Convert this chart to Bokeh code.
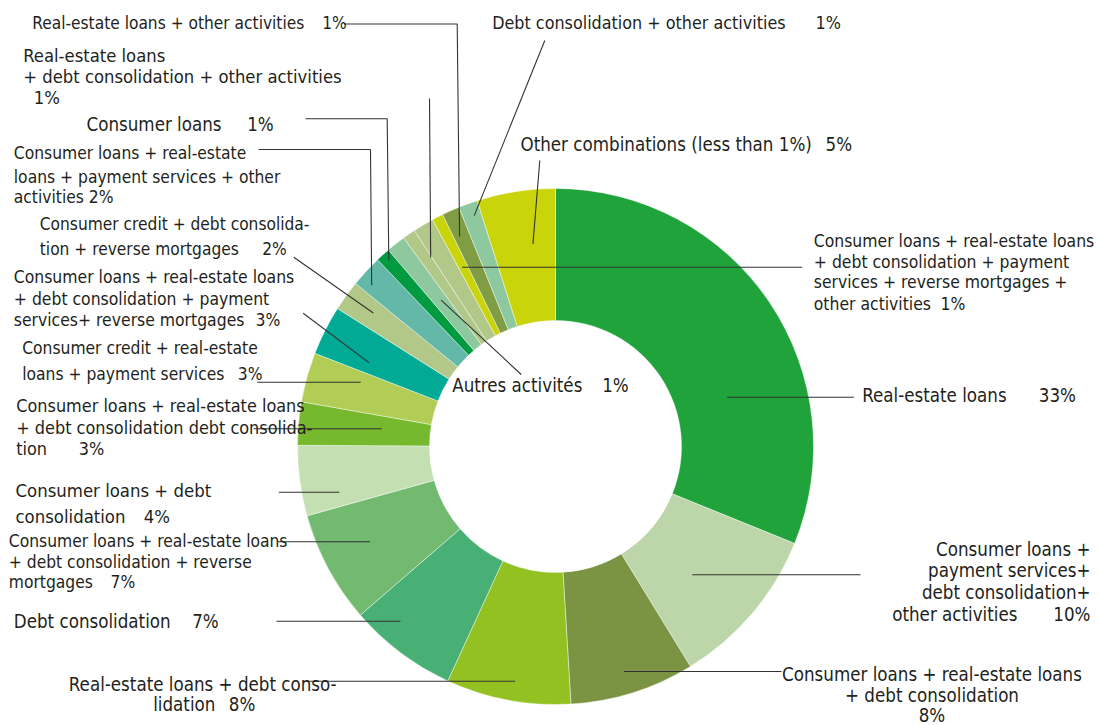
import numpy as np
from bokeh.plotting import figure
from bokeh.models import Range1d, ColumnDataSource
from bokeh.core.properties import value
from bokeh.embed import file_html
from bokeh.resources import INLINE

# ---------------- data (clockwise from 12 o'clock) ----------------
categories = [
    "Real-estate loans",
    "Consumer loans + payment services+ debt consolidation+ other activities",
    "Consumer loans + real-estate loans + debt consolidation",
    "Real-estate loans + debt consolidation",
    "Debt consolidation",
    "Consumer loans + real-estate loans + debt consolidation + reverse mortgages",
    "Consumer loans + debt consolidation",
    "Consumer loans + real-estate loans + debt consolidation debt consolidation",
    "Consumer credit + real-estate loans + payment services",
    "Consumer loans + real-estate loans + debt consolidation + payment services+ reverse mortgages",
    "Consumer credit + debt consolidation + reverse mortgages",
    "Consumer loans + real-estate loans + payment services + other activities",
    "Consumer loans",
    "Autres activités",
    "Real-estate loans + debt consolidation + other activities",
    "",
    "Consumer loans + real-estate loans + debt consolidation + payment services + reverse mortgages + other activities",
    "Real-estate loans + other activities",
    "Debt consolidation + other activities",
    "Other combinations (less than 1%)",
]
shares = [31.1, 10.1, 7.8, 7.8, 6.8, 7.0, 4.4, 2.7, 3.1, 3.1,
          1.9, 2.0, 0.9, 1.2, 0.8, 1.3, 0.7, 1.1, 1.2, 4.9]
printed_pct = ["33%", "10%", "8%", "8%", "7%", "7%", "4%", "3%", "3%", "3%",
               "2%", "2%", "1%", "1%", "1%", "", "1%", "1%", "1%", "5%"]
colors = ["#1fa33a", "#bcd6a9", "#7a9443", "#93c121", "#48b074",
          "#71ba6f", "#c4e0b3", "#76b82e", "#b1cd56", "#00aa95",
          "#b1c888", "#63b8a7", "#009a40", "#8ec89e", "#b1c888",
          "#b1c888", "#cad40b", "#7f9d45", "#8ec89e", "#cad40b"]

# ---------------- layout (page pixel coordinates) ----------------
W, H = 1099, 725
CX, CY = 555.0, 446.0
R_OUT, R_IN = 258.0, 126.0
FONT = "DejaVu Sans Condensed, Liberation Sans"
TXT = "#231f20"
TEXT_DY = -6.5   # baseline correction for the text glyph

def Y(py):
    return H - py

# per slice: text lines, percent position, font size, leader path start, anchor spec
labels = {
    0: dict(lines=[("Real-estate loans", 861.7, 401.7, "left")], pct=(1038.3, 401.7, "left"), size=18.6,
            lead=[(853.3, 396.7)], frac=0.66, mode="y"),
    1: dict(lines=[("Consumer loans +", 1090, 555.7, "right"), ("payment services+", 1090, 576.7, "right"),
                   ("debt consolidation+", 1090, 598.7, "right"), ("other activities", 891.7, 620, "left")],
            pct=(1090, 620, "right"), size=18.6, lead=[(860, 574.3)], frac=0.58, mode="y"),
    2: dict(lines=[("Consumer loans + real-estate loans", 931.5, 680, "center"),
                   ("+ debt consolidation", 931.5, 701.5, "center")],
            pct=(931.5, 721, "center"), size=18.6, lead=[(781, 671)], frac=0.52, mode="y"),
    3: dict(lines=[("Real-estate loans + debt conso-", 68.3, 690, "left"), ("lidation", 152.7, 710, "left")],
            pct=(228.3, 710, "left"), size=18.6, lead=[(303, 680.7)], frac=0.47, mode="y"),
    4: dict(lines=[("Debt consolidation", 13.3, 627.7, "left")], pct=(191.7, 627.7, "left"), size=18.6,
            lead=[(276, 620.7)], frac=0.69, mode="y"),
    5: dict(lines=[("Consumer loans + real-estate loans", 8.3, 546.7, "left"),
                   ("+ debt consolidation + reverse", 8.3, 567.7, "left"), ("mortgages", 8.3, 588.3, "left")],
            pct=(110, 588.3, "left"), size=17.3, lead=[(276.7, 541.3)], frac=0.54, mode="y"),
    6: dict(lines=[("Consumer loans + debt", 15, 496.7, "left"), ("consolidation", 15, 522.7, "left")],
            pct=(143.3, 522.7, "left"), size=18.4, lead=[(278.3, 491.7)], frac=0.23, mode="y"),
    7: dict(lines=[("Consumer loans + real-estate loans", 15.7, 411.7, "left"),
                   ("+ debt consolidation debt consolida-", 15.7, 433.3, "left"), ("tion", 15.7, 454, "left")],
            pct=(78.3, 454, "left"), size=17.9, lead=[(253, 428.3)], frac=0.57, mode="y"),
    8: dict(lines=[("Consumer credit + real-estate", 21.7, 354, "left"), ("loans + payment services", 21.7, 380, "left")],
            pct=(237.3, 380, "left"), size=17.3, lead=[(256.7, 381.7)], frac=0.74, mode="y"),
    9: dict(lines=[("Consumer loans + real-estate loans", 13.3, 283.3, "left"),
                   ("+ debt consolidation + payment", 13.3, 305, "left"),
                   ("services+ reverse mortgages", 13.3, 326, "left")],
            pct=(255, 326, "left"), size=17.4, lead=[(302.7, 312.7)], frac=0.27, mode="r", r=204.2),
    10: dict(lines=[("Consumer credit + debt consolida-", 39.3, 230, "left"),
                    ("tion + reverse mortgages", 39.3, 255, "left")],
             pct=(261.7, 255, "left"), size=17.2, lead=[(293.3, 256.7)], frac=0.57, mode="r", r=225.9),
    11: dict(lines=[("Consumer loans + real-estate", 13.3, 159.3, "left"),
                    ("loans + payment services + other", 13.3, 183.3, "left"), ("activities", 13.3, 203.3, "left")],
             pct=(88.3, 203.3, "left"), size=17.3, lead=[(258.3, 149), (370, 149)], frac=0.29, mode="r", r=244.6),
    12: dict(lines=[("Consumer loans", 86, 130, "left")], pct=(246.7, 130, "left"), size=18.6,
             lead=[(305, 118.3), (386.7, 118.3)], frac=0.55, mode="r", r=250),
    13: dict(lines=[("Autres activités", 451.7, 391.7, "left")], pct=(601.7, 391.7, "left"), size=18.6,
             lead=[(520.7, 374)], frac=0.55, mode="r", r=185.8),
    14: dict(lines=[("Real-estate loans", 22.7, 61.7, "left"),
                    ("+ debt consolidation + other activities", 22.7, 82.3, "left")],
             pct=(33.3, 103.3, "left"), size=18.3, lead=[(429, 98)], frac=0.9, mode="r", r=226.5),
    16: dict(lines=[("Consumer loans + real-estate loans", 813.3, 246.7, "left"),
                    ("+ debt consolidation + payment", 813.3, 267.7, "left"),
                    ("services + reverse mortgages +", 813.3, 288.3, "left"),
                    ("other activities", 813.3, 310, "left")],
             pct=(940, 310, "left"), size=17.4, lead=[(801.7, 266.7)], frac=0.38, mode="y"),
    17: dict(lines=[("Real-estate loans + other activities", 31.7, 29.3, "left")], pct=(321.7, 29.3, "left"),
             size=17.2, lead=[(343.5, 23.5), (456.7, 23.5)], frac=0.35, mode="r", r=230.8),
    18: dict(lines=[("Debt consolidation + other activities", 491.7, 28.3, "left")], pct=(815, 28.3, "left"),
             size=17.8, lead=[(544.3, 40)], frac=0.6, mode="r", r=244.8),
    19: dict(lines=[("Other combinations (less than 1%)", 520, 150, "left")], pct=(825, 150, "left"),
             size=18.6, lead=[(539.3, 160)], frac=0.64, mode="r", r=203.8),
}

# ---------------- figure ----------------
p = figure(width=W, height=H, output_backend="svg", toolbar_location=None,
           x_range=Range1d(0, W), y_range=Range1d(0, H),
           x_axis_type=None, y_axis_type=None, min_border=0)
p.grid.visible = False
p.outline_line_color = None
p.background_fill_color = "white"

vals = np.array(shares, dtype=float)
edges = np.concatenate([[0.0], np.cumsum(vals)]) / vals.sum() * 360.0
src = ColumnDataSource(dict(
    start=np.radians(90.0 - edges[1:]),
    end=np.radians(90.0 - edges[:-1]),
    color=colors,
    name=categories,
))
p.annular_wedge(x=CX, y=Y(CY), inner_radius=R_IN, outer_radius=R_OUT,
                start_angle="start", end_angle="end", direction="anticlock",
                fill_color="color", line_color="white", line_width=0.6, line_alpha=0.7,
                source=src)

# leader lines
xs, ys = [], []
for i, spec in labels.items():
    th = np.radians(edges[i] + spec["frac"] * (edges[i + 1] - edges[i]))
    pts = list(spec["lead"])
    if spec["mode"] == "y":
        ly = pts[-1][1]
        r = (CY - ly) / np.cos(th)
    else:
        r = spec["r"]
    ax = CX + r * np.sin(th)
    ay = CY - r * np.cos(th)
    pts.append((ax, ay))
    xs.append([q[0] for q in pts])
    ys.append([Y(q[1]) for q in pts])
p.multi_line(xs=xs, ys=ys, line_color="#333333", line_width=1.1)

# texts, grouped by alignment and size
groups = {}
def add(al, size, x, y, t):
    g = groups.setdefault((al, size), ([], [], []))
    g[0].append(x); g[1].append(Y(y + TEXT_DY)); g[2].append(t)

for i, spec in labels.items():
    size = "%.1fpx" % spec["size"]
    for (t, x, y, al) in spec["lines"]:
        add(al, size, x, y, t)
    px, py, pal = spec["pct"]
    add(pal, size, px, py, printed_pct[i])

for (al, size), (gx, gy, gt) in groups.items():
    p.text(x=gx, y=gy, text=gt, text_align=al, text_baseline="alphabetic",
           text_font=value(FONT), text_font_size=size, text_color=TXT)

open("out.html", "w").write(file_html(p, INLINE))
